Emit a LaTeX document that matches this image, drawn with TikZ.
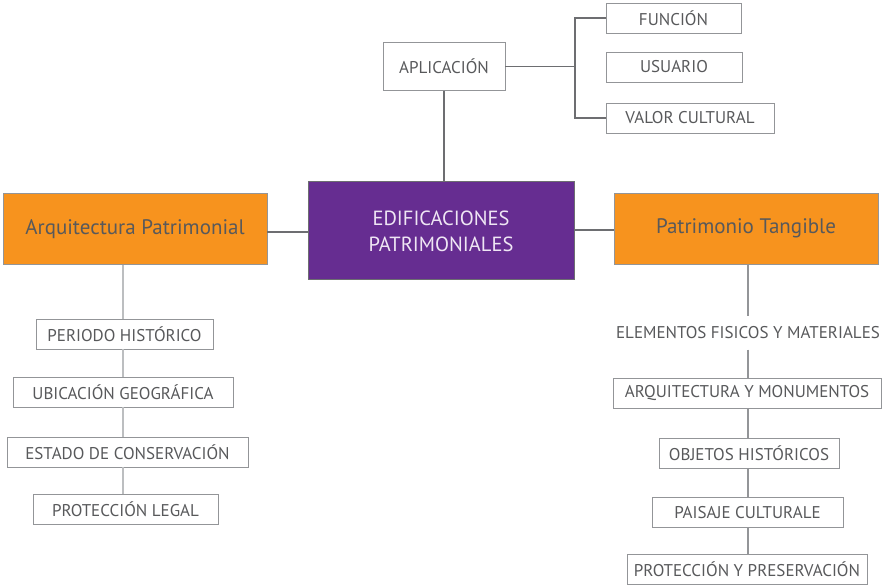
\documentclass[tikz,border=0pt]{standalone}
\usepackage{fontspec}
\setmainfont{PT Sans}
\usetikzlibrary{
    positioning,   % Relative positioning
    calc           % Coordinate calculations
}
\definecolor{morado}{HTML}{662D91}
\definecolor{naranja}{HTML}{F7931E}
\definecolor{texto}{HTML}{58595B}
\definecolor{linea}{HTML}{6D6E71}
\definecolor{lineaclara}{HTML}{BCBEC0}
\definecolor{borde}{HTML}{939598}
\definecolor{lila}{HTML}{EFE6F4}

\tikzset{
    caja/.style={draw=borde, line width=0.9pt, text=texto, minimum height=30pt,
        inner xsep=2pt, font=\fontsize{17}{20}\selectfont},
    tema/.style={draw=borde, line width=0.9pt, fill=naranja, text=texto,
        minimum width=264pt, minimum height=71pt, font=\fontsize{21}{24}\selectfont},
    central/.style={draw=linea, line width=1pt, fill=morado, text=lila, align=center,
        minimum width=266pt, minimum height=98pt, font=\fontsize{20.5}{26}\selectfont},
    conector/.style={draw=linea, line width=1.1pt},
    guia/.style={draw=lineaclara, line width=1.1pt},
    guiader/.style={draw=borde, line width=1.1pt}
}

\begin{document}
\begin{tikzpicture}[x=1pt,y=-1pt]
    \useasboundingbox (0,0) rectangle (883,585);
    % centro
    \node[central] (edif) at (441,231) {EDIFICACIONES\\PATRIMONIALES};
    % rama superior
    \node[caja, minimum width=122pt, minimum height=48pt] (aplic) at (444,66.5) {APLICACIÓN};
    \node[caja, minimum width=135pt] (funcion) at (673.5,18) {FUNCIÓN};
    \node[caja, minimum width=136pt] (usuario) at (674,67) {USUARIO};
    \node[caja, minimum width=168pt] (valor) at (690,118) {VALOR CULTURAL};
    \coordinate (rama) at (575,66.5);
    % temas
    \node[tema] (arqpat) at (135,229) {Arquitectura Patrimonial};
    \node[tema] (pattang) at (746,228.5) {Patrimonio Tangible};
    % columna izquierda
    \node[caja, minimum width=177pt] (periodo) at (124.5,334) {PERIODO HISTÓRICO};
    \node[caja, minimum width=220pt] (ubic) at (123,392) {UBICACIÓN GEOGRÁFICA};
    \node[caja, minimum width=241pt] (estado) at (127.5,452) {ESTADO DE CONSERVACIÓN};
    \node[caja, minimum width=185pt] (legal) at (125.5,509) {PROTECCIÓN LEGAL};
    % columna derecha
    \node[text=texto, minimum height=33pt, inner sep=0pt, font=\fontsize{17}{20}\selectfont]
        (elem) at (748,333) {ELEMENTOS FISICOS Y MATERIALES};
    \node[caja, minimum width=268pt] (arqmon) at (747,393) {ARQUITECTURA Y MONUMENTOS};
    \node[caja, minimum width=180pt] (objetos) at (749,453) {OBJETOS HISTÓRICOS};
    \node[caja, minimum width=191pt] (paisaje) at (747.5,512.5) {PAISAJE CULTURALE};
    \node[caja, minimum width=240pt] (preserv) at (747,569.5) {PROTECCIÓN Y PRESERVACIÓN};

    % conectores
    \draw[conector] (aplic.south) -- (aplic.south |- edif.north);
    \draw[conector] (aplic.east) -- (rama);
    \draw[conector] (funcion.west) -| (rama) |- (valor.west);
    \draw[conector] (arqpat.east |- 0,232) -- (edif.west |- 0,232);
    \draw[conector] (edif.east |- 0,230) -- (pattang.west |- 0,230);
    \draw[guia] (arqpat.south -| 123,0) -- (periodo.north -| 123,0);
    \foreach \a/\b in {periodo/ubic, ubic/estado, estado/legal}
        \draw[guia] (\a.south -| 123,0) -- (\b.north -| 123,0);
    \draw[guiader] (pattang.south -| elem) -- (elem.north);
    \foreach \a/\b in {elem/arqmon, arqmon/objetos, objetos/paisaje, paisaje/preserv}
        \draw[guiader] (\a.south -| 748,0) -- (\b.north -| 748,0);
\end{tikzpicture}
\end{document}
